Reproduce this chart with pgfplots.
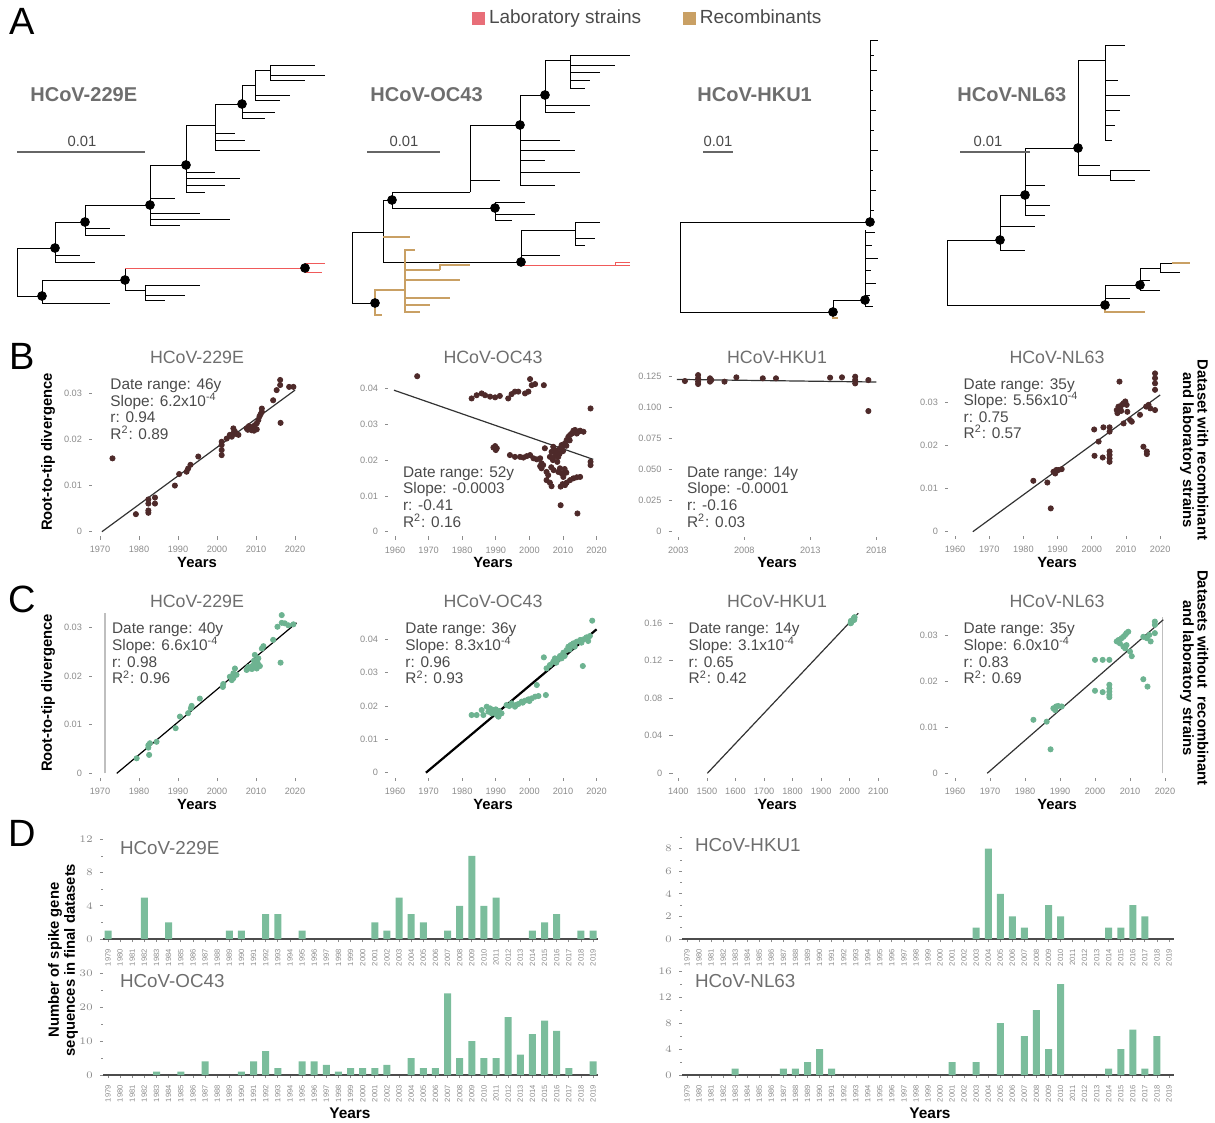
\documentclass[border=0pt]{standalone}
\usepackage{pgfplots}
\pgfplotsset{compat=1.18}
\usepackage{fontspec}
\setmainfont{Liberation Sans}
\definecolor{brownpt}{HTML}{4E2A2A}
\definecolor{greenpt}{HTML}{6DB391}
\definecolor{barg}{HTML}{7BBD9C}
\definecolor{titlegray}{HTML}{6E6E6E}
\definecolor{txtgray}{HTML}{4A4A4A}
\definecolor{tickgray}{HTML}{8C8C8C}
\definecolor{labred}{HTML}{E86E78}
\definecolor{treered}{HTML}{F05A5A}
\definecolor{rectan}{HTML}{C9A064}
\newcommand{\tfont}{\fontsize{8.9}{10}\selectfont}
\newcommand{\sfont}{\fontsize{7.7}{9}\selectfont}
\newcommand{\lfont}{\fontsize{7.4}{8.5}\selectfont\bfseries}
\newcommand{\stats}[7]{%
 \node[anchor=base west,inner sep=0,font=\sfont,text=txtgray] at (#1,#2) {#4};
 \node[anchor=base west,inner sep=0,font=\sfont,text=txtgray] at (#1,{#2+#3}) {#5};
 \node[anchor=base west,inner sep=0,font=\sfont,text=txtgray] at (#1,{#2+2*#3}) {#6};
 \node[anchor=base west,inner sep=0,font=\sfont,text=txtgray] at (#1,{#2+3*#3}) {#7};}
\pgfplotsset{
 myscat/.style={scale only axis, anchor=south west, clip=false,
  axis x line*=bottom, axis y line*=left,
  axis line style={draw=none},
  tick style={tickgray, line width=0.35pt},
  major tick length=1.6pt, minor tick length=1pt,
  tick align=outside,
  tick label style={font=\fontsize{4.6}{5}\selectfont, text=tickgray},
  xticklabel style={/pgf/number format/1000 sep={}, /pgf/number format/assume math mode=true},
  scaled ticks=false},
 mybarax/.style={myscat, ybar, bar width=3.5pt, xmin=1978.6, xmax=2019.4, ymin=0,
  xtick={1979,...,2019},
  xticklabel style={rotate=90, anchor=east, font=\fontsize{3.8}{4}\selectfont},
  x axis line style={draw=black!70, line width=0.6pt}},
 mybrown/.style={only marks, mark=*, mark size=1.3pt, brownpt},
 mygreen/.style={only marks, mark=*, mark size=1.3pt, greenpt},
 myreg/.style={no marks, black!80, line width=0.6pt},
 mybars/.style={fill=barg, draw=none},
}
\begin{document}
\begin{tikzpicture}
\path[use as bounding box] (0pt,0pt) rectangle (607.5pt,-561.5pt);

% ---------------- Panel A : trees ----------------
\begin{axis}[scale only axis, anchor=south west, at={(0pt,-165pt)}, width=607.5pt, height=150pt,
  xmin=0, xmax=1215, ymin=30, ymax=330, y dir=reverse, hide axis, clip=false,
  unbounded coords=jump,
  legend style={at={(0.534,1.04)}, anchor=center, draw=none, fill=none,
    legend columns=2, font=\fontsize{9.5}{11}\selectfont, text=txtgray,
    /tikz/every even column/.append style={column sep=19pt}},
  legend image code/.code={\fill[#1] (0pt,-3pt) rectangle (6pt,3pt);}]
\addlegendimage{labred}\addlegendentry{Laboratory strains}
\addlegendimage{rectan}\addlegendentry{Recombinants}
% 229E black
\addplot[black, line width=0.5pt] coordinates {
(17,275)(17,248)(55,248) (nan,nan) (17,275)(17,296)(42,296) (nan,nan)
(55,248)(55,262)(95,262) (nan,nan) (55,248)(55,255)(80,255) (nan,nan)
(55,248)(55,222)(85,222) (nan,nan) (85,222)(85,235)(125,235) (nan,nan)
(85,222)(85,228)(110,228) (nan,nan) (85,222)(85,205)(150,205) (nan,nan)
(150,205)(150,198)(175,198) (nan,nan) (150,205)(150,213)(200,213) (nan,nan)
(150,205)(150,219)(230,219) (nan,nan) (150,205)(150,225)(180,225) (nan,nan)
(150,205)(150,165)(186,165) (nan,nan) (186,165)(186,172)(215,172) (nan,nan)
(186,165)(186,178)(240,178) (nan,nan) (186,165)(186,185)(225,185) (nan,nan)
(186,165)(186,192)(205,192) (nan,nan) (186,165)(186,125)(215,125) (nan,nan)
(215,125)(215,133)(235,133) (nan,nan) (215,125)(215,140)(245,140) (nan,nan)
(215,125)(215,150)(260,150) (nan,nan) (215,125)(215,104)(242,104) (nan,nan)
(242,104)(242,112)(275,112) (nan,nan) (242,104)(242,118)(265,118) (nan,nan)
(242,104)(242,85)(255,85) (nan,nan) (255,85)(255,95)(290,95) (nan,nan)
(255,85)(255,100)(280,100) (nan,nan) (255,85)(255,70)(270,70) (nan,nan)
(270,70)(270,65)(315,65) (nan,nan) (270,70)(270,75)(325,75) (nan,nan)
(270,70)(270,80)(305,80) (nan,nan) (42,296)(42,303)(110,303) (nan,nan)
(42,296)(42,280)(125,280) (nan,nan) (125,280)(125,268) (nan,nan)
(125,280)(125,290)(145,290) (nan,nan) (145,290)(145,285)(200,285) (nan,nan)
(145,290)(145,295)(185,295) (nan,nan) (145,290)(145,300)(165,300)
};
\addplot[treered, line width=0.5pt] coordinates {
(125,268)(305,268) (nan,nan) (305,268)(305,263)(325,263) (nan,nan) (305,268)(305,272)(322,272)};
% OC43 black
\addplot[black, line width=0.5pt] coordinates {
(352,265)(352,232)(383,232) (nan,nan) (352,265)(352,303)(375,303) (nan,nan)
(383,232)(383,200)(392,200) (nan,nan) (383,232)(383,262)(521,262) (nan,nan)
(392,200)(392,208)(495,208) (nan,nan) (495,208)(495,202)(525,202) (nan,nan)
(495,208)(495,214)(535,214) (nan,nan) (495,208)(495,220)(512,220) (nan,nan)
(392,200)(392,192)(470,192) (nan,nan) (470,192)(470,180)(500,180) (nan,nan)
(470,192)(470,125)(520,125) (nan,nan) (520,125)(520,140)(560,140) (nan,nan)
(520,125)(520,150)(575,150) (nan,nan) (520,125)(520,160)(545,160) (nan,nan)
(520,125)(520,172)(580,172) (nan,nan) (520,125)(520,185)(555,185) (nan,nan)
(520,125)(520,95)(545,95) (nan,nan) (545,95)(545,105)(590,105) (nan,nan)
(545,95)(545,112)(575,112) (nan,nan) (545,95)(545,60)(570,60) (nan,nan)
(570,60)(570,55)(630,55) (nan,nan) (570,60)(570,65)(615,65) (nan,nan)
(570,60)(570,72)(600,72) (nan,nan) (570,60)(570,80)(590,80) (nan,nan)
(570,60)(570,88)(585,88) (nan,nan) (521,262)(521,265) (nan,nan)
(521,262)(521,255)(560,255) (nan,nan) (521,262)(521,230)(575,230) (nan,nan)
(575,230)(575,222)(600,222) (nan,nan) (575,230)(575,238)(595,238) (nan,nan)
(575,230)(575,245)(585,245) (nan,nan) (383,232)(383,237)
};
\addplot[treered, line width=0.5pt] coordinates {
(521,265)(630,265) (nan,nan) (615,265)(615,262)(630,262)};
\addplot[rectan, line width=0.6pt] coordinates {
(383,237)(410,237) (nan,nan) (375,303)(375,315)(382,315) (nan,nan)
(375,303)(375,290)(405,290) (nan,nan) (405,290)(405,270)(440,270) (nan,nan)
(440,270)(440,265)(470,265) (nan,nan) (405,290)(405,280)(460,280) (nan,nan)
(405,290)(405,298)(450,298) (nan,nan) (405,290)(405,305)(430,305) (nan,nan)
(405,290)(405,312)(420,312) (nan,nan) (405,290)(405,250)(415,250)};
% HKU1
\addplot[black, line width=0.5pt] coordinates {
(680,267)(680,222)(870,222) (nan,nan) (680,267)(680,312)(833,312) (nan,nan)
(870,222)(870,40) (nan,nan) (870,40)(878,40) (nan,nan) (870,55)(874,55) (nan,nan)
(870,70)(877,70) (nan,nan) (870,90)(873,90) (nan,nan) (870,110)(876,110) (nan,nan)
(870,130)(874,130) (nan,nan) (870,150)(878,150) (nan,nan) (870,170)(873,170) (nan,nan)
(870,190)(876,190) (nan,nan) (870,210)(874,210) (nan,nan)
(833,312)(833,300)(865,300) (nan,nan) (865,306)(865,230) (nan,nan)
(865,232)(875,232) (nan,nan) (865,245)(872,245) (nan,nan) (865,258)(878,258) (nan,nan)
(865,270)(871,270) (nan,nan) (865,283)(876,283) (nan,nan) (865,295)(870,295) (nan,nan)
(865,306)(873,306)};
\addplot[rectan, line width=0.6pt] coordinates {(833,312)(833,318)(838,318)};
% NL63
\addplot[black, line width=0.5pt] coordinates {
(947,272)(947,240)(1000,240) (nan,nan) (947,272)(947,305)(1105,305) (nan,nan)
(1000,240)(1000,250)(1025,250) (nan,nan) (1000,240)(1000,226)(1035,226) (nan,nan)
(1000,240)(1000,195)(1025,195) (nan,nan) (1025,195)(1025,205)(1050,205) (nan,nan)
(1025,195)(1025,215)(1045,215) (nan,nan) (1025,195)(1025,185)(1045,185) (nan,nan)
(1025,195)(1025,148)(1078,148) (nan,nan) (1078,148)(1078,165)(1100,165) (nan,nan)
(1078,148)(1078,175)(1110,175) (nan,nan) (1110,175)(1110,170)(1150,170) (nan,nan)
(1110,175)(1110,180)(1135,180) (nan,nan) (1078,148)(1078,60)(1105,60) (nan,nan)
(1105,60)(1105,45)(1125,45) (nan,nan) (1105,60)(1105,80)(1118,80) (nan,nan)
(1105,60)(1105,95)(1130,95) (nan,nan) (1105,60)(1105,110)(1120,110) (nan,nan)
(1105,60)(1105,125)(1115,125) (nan,nan) (1105,60)(1105,140)(1112,140) (nan,nan)
(1105,305)(1105,298)(1130,298) (nan,nan) (1105,305)(1105,285)(1140,285) (nan,nan)
(1140,285)(1140,290)(1160,290) (nan,nan) (1140,285)(1140,280)(1150,280) (nan,nan)
(1140,285)(1140,268)(1160,268) (nan,nan) (1160,268)(1160,272)(1180,272) (nan,nan)
(1160,268)(1160,263)(1172,263)};
\addplot[rectan, line width=0.6pt] coordinates {
(1105,305)(1105,312)(1145,312) (nan,nan) (1172,263)(1190,263)};
% node dots
\addplot[only marks, mark=*, mark size=2.2pt, black] coordinates {
(55,248)(85,222)(150,205)(186,165)(242,104)(42,296)(125,280)(305,268)
(392,200)(520,125)(545,95)(521,262)(375,303)(495,208)
(870,222)(833,312)(865,300)
(1000,240)(1025,195)(1078,148)(1105,305)(1140,285)};
% scale bars
\addplot[black!60, line width=0.8pt] coordinates {
(17,152)(145,152) (nan,nan) (367,152)(440,152) (nan,nan) (703,152)(733,152) (nan,nan) (960,152)(1030,152)};
\node[font=\fontsize{7.4}{8}\selectfont, text=txtgray] at (axis cs:82,141) {0.01};
\node[font=\fontsize{7.4}{8}\selectfont, text=txtgray] at (axis cs:404,141) {0.01};
\node[font=\fontsize{7.4}{8}\selectfont, text=txtgray] at (axis cs:718,141) {0.01};
\node[font=\fontsize{7.4}{8}\selectfont, text=txtgray] at (axis cs:988,141) {0.01};
\node[anchor=west, inner sep=0, font=\fontsize{10}{11}\selectfont\bfseries, text=titlegray] at (axis cs:30,95) {HCoV-229E};
\node[anchor=west, inner sep=0, font=\fontsize{10}{11}\selectfont\bfseries, text=titlegray] at (axis cs:370,95) {HCoV-OC43};
\node[anchor=west, inner sep=0, font=\fontsize{10}{11}\selectfont\bfseries, text=titlegray] at (axis cs:697,95) {HCoV-HKU1};
\node[anchor=west, inner sep=0, font=\fontsize{10}{11}\selectfont\bfseries, text=titlegray] at (axis cs:957,95) {HCoV-NL63};
\end{axis}

% ---------------- Panel B ----------------
\begin{axis}[myscat, at={(46.1pt,-268.15pt)}, width=105.3pt, height=80.7pt, xmin=1968, xmax=2022, ymin=-0.001, ymax=0.034,
  xtick={1970,1980,...,2020}, ytick={0,0.01,0.02,0.03}, yticklabels={0,0.01,0.02,0.03}]
\addplot[mybrown] coordinates {(1973.2,0.0159)(1979.2,0.0038)(1982.4,0.0070)(1982.4,0.0061)(1982.4,0.0046)(1982.4,0.0041)(1984.1,0.0074)(1984.1,0.0061)(1989.2,0.0100)(1990.3,0.0125)(1992.2,0.0130)(1992.6,0.0137)(1993.2,0.0145)(1995.2,0.0163)(2001.2,0.0195)(2001.2,0.0188)(2001.2,0.0177)(2001.2,0.0166)(2002.5,0.0202)(2003.3,0.0210)(2004.2,0.0213)(2004.2,0.0224)(2004.6,0.0217)(2005.5,0.0210)(2007.6,0.0224)(2008.5,0.0226)(2008.9,0.0220)(2009.3,0.0228)(2009.7,0.0231)(2010.2,0.0235)(2010.2,0.0222)(2010.6,0.0242)(2011.5,0.0267)(2011.5,0.0260)(2014.4,0.0285)(2015.3,0.0307)(2016.2,0.0329)(2016.2,0.0318)(2016.3,0.0236)(2018.5,0.0314)(2019.6,0.0314)(2007.9,0.0221)(2008.2,0.0229)(2009,0.0223)(2009.5,0.0219)(2010.9,0.0250)(2011.2,0.0255)(2003.8,0.0206)(2004.9,0.0212)};
\addplot[myreg] coordinates {(1970.5,0)(2020,0.0307)};
\end{axis}
\begin{axis}[myscat, at={(194.15pt,-268.2pt)}, width=107.5pt, height=84.75pt, xmin=1958, xmax=2022, ymin=-0.0013, ymax=0.046,
  xtick={1960,1970,...,2020}, ytick={0,0.01,0.02,0.03,0.04}, yticklabels={0,0.01,0.02,0.03,0.04}]
\addplot[mybrown] coordinates {(1966.6,0.0434)(1982.8,0.0372)(1984.3,0.0381)(1985.8,0.0386)(1986.8,0.0381)(1988.3,0.0377)(1989.8,0.0375)(1991.2,0.0379)(1993.7,0.0372)(1994.7,0.0384)(1995.7,0.0391)(1996.7,0.0391)(1998.7,0.0386)(1999.7,0.0391)(2000.2,0.0426)(2000.7,0.0409)(2001.7,0.0412)(2004.3,0.0409)
(1989.8,0.0239)(1990.3,0.0233)(1989.3,0.0235)(1990,0.0228)
(1994.2,0.0214)(1995.7,0.0209)(1997.2,0.0209)(1998.2,0.0207)(1999.2,0.0211)(2000.2,0.0214)(2001.2,0.0205)(2002.2,0.0202)(2003.2,0.0205)
(2003.6,0.0191)(2003.6,0.0177)(2004.1,0.0186)(2003.2,0.0183)(2004.6,0.0233)(2005.1,0.0167)(2005.6,0.0158)(2005.1,0.0144)(2006.1,0.0137)(2006.6,0.0127)
(2006.1,0.0209)(2006.6,0.0223)(2007.1,0.0237)(2007.6,0.0228)(2008.1,0.0219)(2008.3,0.0195)(2008.6,0.0209)(2009.1,0.0233)(2009.6,0.0242)(2010.1,0.0239)(2010.6,0.0247)(2011.1,0.0256)(2011.6,0.0265)(2012.1,0.0270)(2012.6,0.0274)(2013.1,0.0282)(2013.6,0.0284)(2014.1,0.0274)(2014.6,0.0279)(2015.1,0.0282)(2016.1,0.0279)
(2008.6,0.0167)(2009.1,0.0177)(2009.6,0.0163)(2010.1,0.0153)(2009.3,0.0126)(2009.9,0.0133)(2010.6,0.0130)(2011.1,0.0137)(2012.1,0.0144)(2013.1,0.0149)(2014.1,0.0152)(2015.1,0.0153)
(2009.3,0.0074)(2014.3,0.0051)(2018.2,0.0344)(2018.2,0.0195)(2018.2,0.0186)
(2007,0.0200)(2007.5,0.0210)(2008,0.0225)(2009,0.0218)(2010,0.0225)(2011,0.0240)(2012,0.0255)(2006.5,0.0180)(2007.2,0.0172)(2010.5,0.0175)(2011,0.0165)};
\addplot[myreg] coordinates {(1959.7,0.0395)(2019,0.0202)};
\end{axis}
\begin{axis}[myscat, at={(335.85pt,-268.35pt)}, width=105.6pt, height=83.1pt, xmin=2002.5, xmax=2018.5, ymin=-0.004, ymax=0.13,
  xtick={2003,2008,2013,2018}, ytick={0,0.025,0.05,0.075,0.1,0.125}, yticklabels={0,0.025,0.050,0.075,0.100,0.125}]
\addplot[mybrown] coordinates {(2003.5,0.1215)(2004.5,0.1263)(2004.5,0.1237)(2004.5,0.1210)(2004.5,0.1191)(2005.4,0.1237)(2005.4,0.1210)(2005.5,0.1223)(2006.5,0.1210)(2007.4,0.1245)(2009.4,0.1237)(2010.4,0.1237)(2014.5,0.1242)(2015.4,0.1245)(2016.4,0.1250)(2016.4,0.1223)(2016.4,0.1196)(2017.4,0.1223)(2017.4,0.0973)};
\addplot[myreg] coordinates {(2002.9,0.1228)(2018,0.1207)};
\end{axis}
\begin{axis}[myscat, at={(474.1pt,-268pt)}, width=109.4pt, height=84.1pt, xmin=1958, xmax=2022, ymin=-0.001, ymax=0.038,
  xtick={1960,1970,...,2020}, ytick={0,0.01,0.02,0.03}, yticklabels={0,0.01,0.02,0.03}]
\addplot[mybrown] coordinates {(1982.9,0.0118)(1987,0.0114)(1988,0.0054)(1988.8,0.0139)(1989.6,0.0143)(1990.2,0.0143)(1991.2,0.0145)(1989.3,0.0135)(2000.7,0.0237)(2003.4,0.0242)(2005.2,0.0242)(2005.2,0.0232)(2002,0.0209)(2000.8,0.0176)(2003.2,0.0172)(2005.2,0.0186)(2005.2,0.0178)(2005.2,0.0170)(2005.2,0.0162)(2008.1,0.0348)(2007.3,0.0282)(2007.8,0.0290)(2008.3,0.0286)(2008.8,0.0294)(2009.3,0.0298)(2009.8,0.0302)(2010.2,0.0294)(2010.4,0.0278)(2011.2,0.0259)(2009.3,0.0251)(2011.7,0.0255)(2014.1,0.0271)(2015.1,0.0197)(2016.1,0.0186)(2015.9,0.0290)(2016.6,0.0294)(2017.1,0.0286)(2018.5,0.0282)(2018.5,0.0367)(2018.5,0.0356)(2018.5,0.0344)(2018.5,0.0329)(2007.5,0.0275)(2008.6,0.0280)(2016.1,0.0180)};
\addplot[myreg] coordinates {(1965.2,0)(2020,0.0317)};
\end{axis}

% ---------------- Panel C ----------------
\begin{axis}[myscat, at={(46.1pt,-389.1pt)}, width=105.3pt, height=84.95pt, xmin=1968, xmax=2022, ymin=-0.001, ymax=0.034,
  xtick={1970,1980,...,2020}, ytick={0,0.01,0.02,0.03}, yticklabels={0,0.01,0.02,0.03}]
\addplot[no marks, black!25, line width=0.6pt] coordinates {(1971.3,0)(1971.3,0.033)};
\addplot[mygreen] coordinates {(1979.4,0.0031)(1982.4,0.0058)(1982.4,0.0053)(1982.8,0.0062)(1982.6,0.0038)(1984.5,0.0065)(1989.4,0.0093)(1990.5,0.0117)(1992.6,0.0124)(1993.3,0.0134)(1993.5,0.0139)(1995.6,0.0154)(2001.5,0.0178)(2001.6,0.0184)(2003.3,0.0199)(2004.2,0.0206)(2004.6,0.0216)(2005,0.0203)(2004.2,0.0196)(2003.8,0.0192)(2007.6,0.0213)(2008.5,0.0216)(2008.9,0.0220)(2009.3,0.0223)(2009.7,0.0227)(2010.2,0.0230)(2010.2,0.0216)(2010.6,0.0237)(2009.7,0.0244)(2011.5,0.0257)(2011.9,0.0262)(2011,0.0221)(2014.4,0.0275)(2015.5,0.0302)(2016.6,0.0310)(2017.4,0.0309)(2016.3,0.0228)(2016.6,0.0326)(2018.3,0.0305)(2019.6,0.0307)(2008,0.0219)(2009,0.0215)(2010.5,0.0226)(2009.5,0.0232)};
\addplot[myreg, black] coordinates {(1974.3,0)(2020.4,0.031)};
\end{axis}
\begin{axis}[myscat, at={(194.15pt,-388.85pt)}, width=107.5pt, height=80.85pt, xmin=1958, xmax=2022, ymin=-0.0015, ymax=0.047,
  xtick={1960,1970,...,2020}, ytick={0,0.01,0.02,0.03,0.04}, yticklabels={0,0.01,0.02,0.03,0.04}]
\addplot[mygreen] coordinates {(1982.8,0.0173)(1984.3,0.0173)(1985.8,0.0188)(1986.3,0.0173)(1987.3,0.0198)(1987.8,0.0183)(1988.3,0.0193)(1988.8,0.0178)(1989.3,0.0188)(1989.8,0.0183)(1990.3,0.0173)(1990.8,0.0168)(1991.7,0.0178)(1993.2,0.0203)(1994.7,0.0208)(1995.7,0.0198)(1996.7,0.0206)(1997.7,0.0213)(1998.7,0.0216)(1999.7,0.0220)(2000.7,0.0223)(2001.7,0.0228)(2002.7,0.0230)(2004.9,0.0233)(2002.2,0.0263)(2004.3,0.0346)(2005.1,0.0313)(2006.1,0.0323)(2007.1,0.0333)(2007.6,0.0343)(2008.3,0.0338)(2009.1,0.0350)(2010.1,0.0360)(2011.1,0.0368)(2011.6,0.0378)(2012.3,0.0383)(2013.1,0.0388)(2014.1,0.0393)(2015.1,0.0398)(2016.1,0.0400)(2017,0.0406)(2018,0.0410)(2009.6,0.0343)(2015.9,0.0320)(2018.7,0.0456)(1994,0.0200)(1996,0.0203)(1998,0.0210)(2000,0.0215)(2008,0.0330)(2010.5,0.0350)(2012,0.0370)(2013.5,0.0378)(2015.5,0.0390)(2017.5,0.0395)(1990,0.0190)(1991,0.0185)};
\addplot[no marks, black, line width=1.1pt] coordinates {(1969.2,0)(2020,0.043)};
\end{axis}
\begin{axis}[myscat, at={(336.3pt,-389pt)}, width=105.7pt, height=84.4pt, xmin=1380, xmax=2120, ymin=-0.005, ymax=0.175,
  xtick={1400,1500,...,2100}, ytick={0,0.04,0.08,0.12,0.16}, yticklabels={0,0.04,0.08,0.12,0.16}]
\addplot[mygreen] coordinates {(2003,0.1600)(2004,0.1610)(2005,0.1605)(2006,0.1620)(2008,0.1630)(2010,0.1630)(2014,0.1650)(2015,0.1650)(2016,0.1660)(2017,0.1665)(2016,0.1640)(2015,0.1635)(2004,0.1625)(2005,0.1615)};
\addplot[myreg] coordinates {(1501.5,0)(2030,0.1707)};
\end{axis}
\begin{axis}[myscat, at={(474pt,-388.95pt)}, width=112pt, height=85.3pt, xmin=1958, xmax=2022, ymin=-0.001, ymax=0.036,
  xtick={1960,1970,...,2020}, ytick={0,0.01,0.02,0.03}, yticklabels={0,0.01,0.02,0.03}]
\addplot[no marks, black!25, line width=0.6pt] coordinates {(2019.2,0)(2019.2,0.034)};
\addplot[mygreen] coordinates {(1982.4,0.0116)(1986.2,0.0112)(1987.3,0.0052)(1988.1,0.0141)(1988.9,0.0145)(1989.5,0.0146)(1990.5,0.0145)(1988.6,0.0137)(2000,0.0246)(2002.2,0.0246)(2004.1,0.0246)(2000,0.0179)(2002.2,0.0176)(2004.1,0.0192)(2004.1,0.0184)(2004.1,0.0177)(2004.1,0.0170)(2004.1,0.0165)(2006.2,0.0286)(2006.7,0.0289)(2007.1,0.0282)(2007.6,0.0293)(2008.1,0.0296)(2008.6,0.0300)(2009,0.0304)(2009,0.0278)(2009.5,0.0307)(2008.1,0.0275)(2008.6,0.0271)(2010,0.0264)(2010.5,0.0254)(2013.8,0.0204)(2015,0.0188)(2013.8,0.0296)(2014.8,0.0293)(2015.5,0.0300)(2015.9,0.0286)(2017.1,0.0304)(2017.1,0.0329)(2017.1,0.0322)};
\addplot[myreg] coordinates {(1969.2,0)(2019.5,0.0333)};
\end{axis}

% ---------------- Panel D ----------------
\begin{axis}[mybarax, at={(51.575pt,-469.5pt)}, width=247.4pt, height=51.05pt, ymax=12.3,
  ytick={0,4,8,12}, minor ytick={2,6,10}]
\addplot[mybars] coordinates {(1979,1)(1982,5)(1984,2)(1989,1)(1990,1)(1992,3)(1993,3)(1995,1)(2001,2)(2002,1)(2003,5)(2004,3)(2005,2)(2007,1)(2008,4)(2009,10)(2010,4)(2011,5)(2014,1)(2015,2)(2016,3)(2018,1)(2019,1)};
\end{axis}
\begin{axis}[mybarax, at={(341.1pt,-469.5pt)}, width=245.8pt, height=52pt, ymax=9.2,
  ytick={0,2,4,6,8}, minor ytick={1,3,5,7,9}]
\addplot[mybars] coordinates {(2003,1)(2004,8)(2005,4)(2006,2)(2007,1)(2009,3)(2010,2)(2014,1)(2015,1)(2016,3)(2017,2)};
\end{axis}
\begin{axis}[mybarax, at={(51.575pt,-537.5pt)}, width=247.4pt, height=51.85pt, ymax=30.5,
  ytick={0,10,20,30}, minor ytick={5,15,25}]
\addplot[mybars] coordinates {(1983,1)(1985,1)(1987,4)(1990,1)(1991,4)(1992,7)(1993,2)(1995,4)(1996,4)(1997,3)(1998,1)(1999,2)(2000,2)(2001,2)(2002,3)(2004,5)(2005,2)(2006,2)(2007,24)(2008,5)(2009,10)(2010,5)(2011,5)(2012,17)(2013,6)(2014,12)(2015,16)(2016,13)(2017,2)(2019,4)};
\end{axis}
\begin{axis}[mybarax, at={(341.1pt,-537.5pt)}, width=245.8pt, height=52.65pt, ymax=16.2,
  ytick={0,4,8,12,16}, minor ytick={2,6,10,14}]
\addplot[mybars] coordinates {(1983,1)(1987,1)(1988,1)(1989,2)(1990,4)(1991,1)(2001,2)(2003,2)(2005,8)(2007,6)(2008,10)(2009,4)(2010,14)(2014,1)(2015,4)(2016,7)(2017,1)(2018,6)};
\end{axis}

% ---------------- Text ----------------
\begin{scope}[x=0.5pt,y=-0.5pt]
\foreach \L/\x/\y in {A/22/21,B/22/356,C/22/599,D/22/833}
  \node[font=\fontsize{19}{20}\selectfont] at (\x,\y) {\L};
\foreach \t/\x in {HCoV-229E/197,HCoV-OC43/493,HCoV-HKU1/777,HCoV-NL63/1057}{
  \node[font=\tfont, text=titlegray] at (\x,357) {\t};
  \node[font=\tfont, text=titlegray] at (\x,601) {\t};
  \node[font=\lfont] at (\x,562) {Years};
  \node[font=\lfont] at (\x,804) {Years};}
\node[font=\lfont, rotate=90] at (48,452) {Root-to-tip divergence};
\node[font=\lfont, rotate=90] at (48,693) {Root-to-tip divergence};
\node[font=\lfont, rotate=-90] at (1203,450) {Dataset with recombinant};
\node[font=\lfont, rotate=-90] at (1187,450) {and laboratory strains};
\node[font=\lfont, rotate=-90] at (1203,678) {Datasets without\ \ recombinant};
\node[font=\lfont, rotate=-90] at (1187,678) {and laboratory strains};
\stats{110}{389.5}{16.5}{Date range: 46y}{Slope: 6.2x10\textsuperscript{-4}}{r: 0.94}{R\textsuperscript{2}: 0.89}
\stats{402.7}{477}{16.7}{Date range: 52y}{Slope: -0.0003}{r: -0.41}{R\textsuperscript{2}: 0.16}
\stats{686.7}{477}{16.7}{Date range: 14y}{Slope: -0.0001}{r: -0.16}{R\textsuperscript{2}: 0.03}
\stats{963.3}{389}{16.5}{Date range: 35y}{Slope: 5.56x10\textsuperscript{-4}}{r: 0.75}{R\textsuperscript{2}: 0.57}
\stats{111.7}{633.8}{16.7}{Date range: 40y}{Slope: 6.6x10\textsuperscript{-4}}{r: 0.98}{R\textsuperscript{2}: 0.96}
\stats{405}{633.8}{16.7}{Date range: 36y}{Slope: 8.3x10\textsuperscript{-4}}{r: 0.96}{R\textsuperscript{2}: 0.93}
\stats{688.3}{633.8}{16.7}{Date range: 14y}{Slope: 3.1x10\textsuperscript{-4}}{r: 0.65}{R\textsuperscript{2}: 0.42}
\stats{963.3}{633.8}{16.7}{Date range: 35y}{Slope: 6.0x10\textsuperscript{-4}}{r: 0.83}{R\textsuperscript{2}: 0.69}
\node[anchor=west, font=\fontsize{9.4}{10}\selectfont, text=titlegray] at (113,848) {HCoV-229E};
\node[anchor=west, font=\fontsize{9.4}{10}\selectfont, text=titlegray] at (688,845) {HCoV-HKU1};
\node[anchor=west, font=\fontsize{9.4}{10}\selectfont, text=titlegray] at (113,981) {HCoV-OC43};
\node[anchor=west, font=\fontsize{9.4}{10}\selectfont, text=titlegray] at (688,981) {HCoV-NL63};
\node[font=\lfont, rotate=90] at (55,960) {Number of spike gene};
\node[font=\lfont, rotate=90] at (71,960) {sequences in final datasets};
\node[font=\fontsize{7.7}{8.5}\selectfont\bfseries] at (350,1113) {Years};
\node[font=\fontsize{7.7}{8.5}\selectfont\bfseries] at (930,1113) {Years};
\end{scope}
\end{tikzpicture}
\end{document}
